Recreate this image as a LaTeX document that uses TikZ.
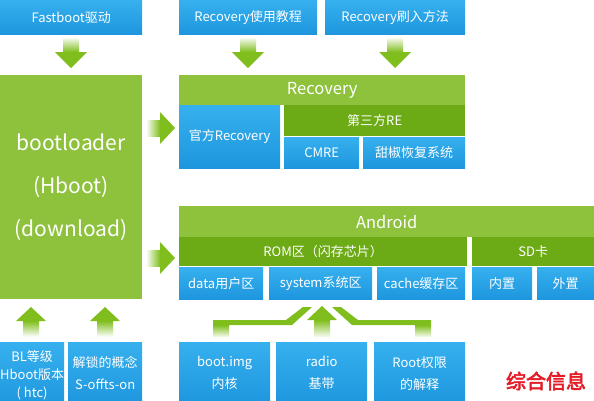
\documentclass[tikz,border=0pt]{standalone}
\usepackage{fontspec}
\setmainfont{Noto Sans CJK SC}
\newfontfamily\redfont{Noto Sans CJK SC}[FakeBold=3]
\definecolor{lg}{RGB}{142,194,60}
\definecolor{dg}{RGB}{108,170,22}
\definecolor{bT}{RGB}{54,176,238}
\definecolor{bB}{RGB}{30,150,222}
\definecolor{ag}{RGB}{128,190,30}
\definecolor{zred}{RGB}{228,28,40}
\tikzset{
  box/.style={draw=none, inner sep=0pt, anchor=north west, text=white, align=center,
    font=\fontsize{13}{22}\selectfont},
  bluebox/.style={box, top color=bT, bottom color=bB},
  lgbox/.style={box, fill=lg},
  dgbox/.style={box, fill=dg},
  headfont/.style={font=\fontsize{16.5}{20}\selectfont},
}
\newcommand\bx[7]{\node[#6,minimum width={(#4-(#2))*1pt},minimum height={(#5-(#3))*1pt}] (#1) at (#2,#3) {#7};}
% vertical arrow pointing down: x, ytop, ytip
\newcommand\fatdown[3]{%
  \shade[top color=ag!8, bottom color=ag] (#1-8,#2) rectangle (#1+8,#3-16);
  \fill[ag] (#1-16,#3-16) -- (#1+16,#3-16) -- (#1,#3) -- cycle;}
% arrow pointing up: x, ybottom, ytip
\newcommand\fatup[3]{%
  \shade[top color=ag, bottom color=ag!5] (#1-8,#3+14) rectangle (#1+8,#2);
  \fill[ag] (#1-15,#3+14) -- (#1+15,#3+14) -- (#1,#3) -- cycle;}
% arrow pointing right: y, xstart, xtip
\newcommand\fatright[3]{%
  \shade[left color=ag!8, right color=ag] (#2,#1-8) rectangle (#3-15,#1+8);
  \fill[ag] (#3-15,#1-16) -- (#3-15,#1+16) -- (#3,#1) -- cycle;}
\begin{document}
\begin{tikzpicture}[x=1pt,y=-1pt]
\useasboundingbox (0,0) rectangle (594,400);
\clip (0,0) rectangle (594,400);
% top row
\bx{fast}{0}{0}{142}{34}{bluebox}{Fastboot驱动}
\bx{rtut}{179}{0}{317}{34}{bluebox}{Recovery使用教程}
\bx{rflash}{325}{0}{465}{34}{bluebox}{Recovery刷入方法}
% bootloader
\bx{boot}{0}{75}{142}{299}{lgbox,font=\fontsize{21}{43}\selectfont}{bootloader\\(Hboot)\\(download)}
% recovery group
\bx{rec}{179}{75}{465}{105}{lgbox,headfont}{Recovery}
\bx{off}{179}{105}{280}{168}{bluebox}{官方Recovery}
\bx{third}{284}{105}{465}{136}{dgbox}{第三方RE}
\bx{cmre}{284}{137}{359}{168}{bluebox}{CMRE}
\bx{tj}{363}{137}{465}{168}{bluebox}{甜椒恢复系统}
% android group
\bx{and}{179}{206}{594}{237}{lgbox,headfont}{Android}
\bx{rom}{179}{237}{467}{266}{dgbox}{ROM区（闪存芯片）}
\bx{sd}{472}{237}{594}{266}{dgbox}{SD卡}
\bx{data}{179}{267}{263}{299}{bluebox}{data用户区}
\bx{sys}{269}{267}{372}{299}{bluebox}{system系统区}
\bx{cache}{377}{267}{465}{299}{bluebox}{cache缓存区}
\bx{nz}{472}{267}{532}{299}{bluebox}{内置}
\bx{wz}{537}{267}{594}{299}{bluebox}{外置}
% bottom row
\bx{bl}{0}{342}{61}{408}{bluebox,font=\fontsize{13}{18}\selectfont}{BL等级\\Hboot版本\\( htc)}
\bx{unlock}{68}{342}{142}{404}{bluebox}{解锁的概念\\S-offts-on}
\bx{bimg}{179}{342}{270}{404}{bluebox}{boot.img\\内核}
\bx{radio}{276}{342}{367}{404}{bluebox}{radio\\基带}
\bx{root}{374}{342}{465}{404}{bluebox}{Root权限\\的解释}
\node[text=zred, font=\redfont\fontsize{20}{22}\selectfont] (zh) at (546,381) {综合信息};
% arrows
\fatdown{71}{38}{68}
\fatdown{248}{38}{68}
\fatdown{395}{38}{68}
\fatright{128}{147}{175}
\fatright{258}{147}{175}
\fatup{31}{336}{307}
\fatup{105}{336}{307}
\fatup{322}{337}{306}
% branches of combined arrow
\fill[ag] (213,320) -- (286,320) -- (303,307) -- (312,307) -- (292,325) -- (229,325) -- (213,325) -- cycle;
\shade[top color=ag, bottom color=ag!5] (213,325) rectangle (229,337);
\fill[ag] (431,320) -- (358,320) -- (341,307) -- (332,307) -- (352,325) -- (415,325) -- (431,325) -- cycle;
\shade[top color=ag, bottom color=ag!5] (415,325) rectangle (431,337);
\end{tikzpicture}
\end{document}
